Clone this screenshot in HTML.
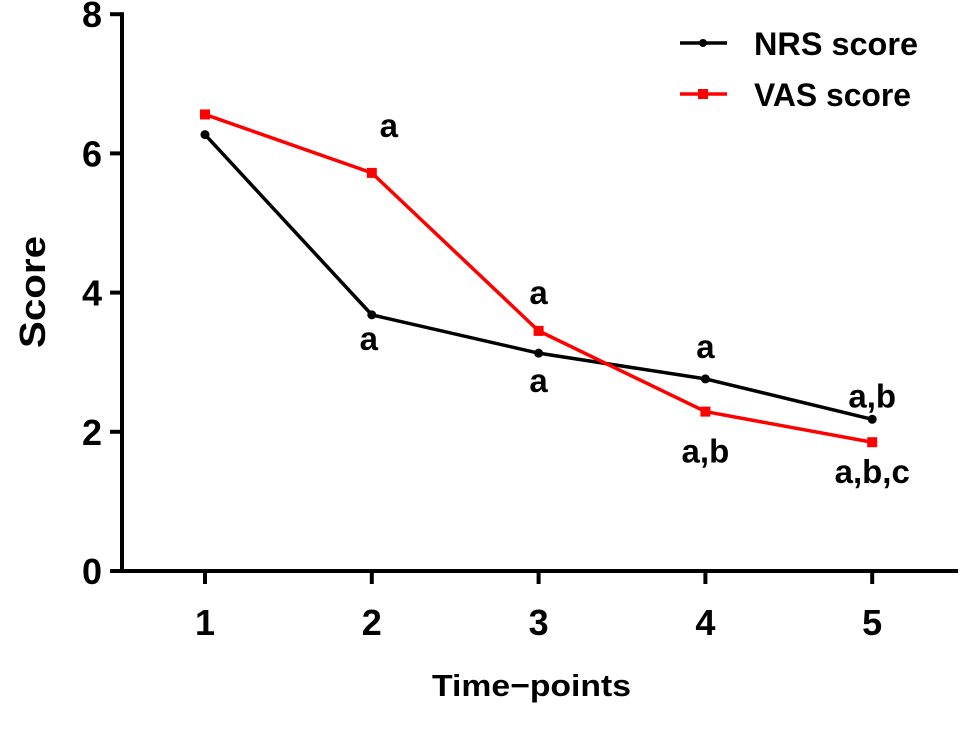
<!DOCTYPE html>
<html><head><meta charset="utf-8"><style>
body{margin:0;background:#fff}
svg text{font-family:"Liberation Sans",Arial,sans-serif;font-weight:bold}
</style></head><body>
<svg id="c" width="969" height="729"></svg>
<script>
const categories=[1,2,3,4,5];
const nrsValues=[6.27,3.68,3.13,2.76,2.18];
const vasValues=[6.56,5.72,3.45,2.29,1.85];
const yTicks=[0,2,4,6,8];
const nrsLabels=["","a","a","a","a,b"];
const vasLabels=["","a","a","a,b","a,b,c"];
const NS="http://www.w3.org/2000/svg";
const svg=document.getElementById('c');
const xS=v=>205+(v-1)*166.8;
const yS=v=>571-v*69.6;
function el(t,a,txt){const e=document.createElementNS(NS,t);for(const k in a)e.setAttribute(k,a[k]);if(txt!==undefined)e.textContent=txt;svg.appendChild(e);return e;}
let e;
e=el('line',{x1:122,y1:yS(8)-2,x2:122,y2:573,stroke:'#000','stroke-width':4});


e=el('line',{x1:120,y1:571,x2:958,y2:571,stroke:'#000','stroke-width':4});


yTicks.forEach(t=>{
 e=el('line',{x1:110,y1:yS(t),x2:122,y2:yS(t),stroke:'#000','stroke-width':4});
 
 
 e=el('text',{x:102,y:yS(t)+13,'text-anchor':'end','font-size':36,transform:'scale(1,1)'},t);
 
 
});
categories.forEach(c=>{
 e=el('line',{x1:xS(c),y1:571,x2:xS(c),y2:584,stroke:'#000','stroke-width':4});
 
 
 e=el('text',{x:xS(c),y:635,'text-anchor':'middle','font-size':36},c);
 
 
});
e=el('text',{x:0,y:0,transform:'translate(45,292) rotate(-90)','text-anchor':'middle','font-size':36,textLength:112,lengthAdjust:'spacingAndGlyphs'},'Score');


e=el('text',{x:432,y:696,'font-size':31,textLength:199,lengthAdjust:'spacingAndGlyphs'},'Time\u2212points');


function series(vals,color,name,sq){
 e=el('polyline',{points:vals.map((v,i)=>xS(categories[i])+','+yS(v)).join(' '),fill:'none',stroke:color,'stroke-width':3.5});
 
 
 vals.forEach((v,i)=>{
  if(sq) e=el('rect',{x:xS(categories[i])-5,y:yS(v)-5,width:10,height:10,fill:color});
  else e=el('circle',{cx:xS(categories[i]),cy:yS(v),r:4.5,fill:color});
  
  
 });
}
series(nrsValues,'#000','nrs',false);
series(vasValues,'#f00','vas',true);
const nrsOff=[0,35,39,-21,-12];
const vasOff=[0,-36,-27,51,41];
nrsLabels.forEach((l,i)=>{if(!l)return;
 e=el('text',{x:xS(categories[i])+(i==1?-3:0),y:yS(nrsValues[i])+nrsOff[i],'text-anchor':'middle','font-size':33},l);
 
 
});
vasLabels.forEach((l,i)=>{if(!l)return;
 e=el('text',{x:xS(categories[i])+(i==1?17:0),y:yS(vasValues[i])+vasOff[i],'text-anchor':'middle','font-size':33},l);
 
 
});
e=el('line',{x1:680,y1:43,x2:727,y2:43,stroke:'#000','stroke-width':3.5});


e=el('circle',{cx:703,cy:43,r:4,fill:'#000'});


e=el('text',{x:754,y:55,'font-size':32,textLength:164,lengthAdjust:'spacingAndGlyphs'},'NRS score');


e=el('line',{x1:680,y1:94,x2:727,y2:94,stroke:'#f00','stroke-width':3.5});


e=el('rect',{x:698,y:89,width:10,height:10,fill:'#f00'});


e=el('text',{x:754,y:106,'font-size':32,textLength:157,lengthAdjust:'spacingAndGlyphs'},'VAS score');


</script>
</body></html>
